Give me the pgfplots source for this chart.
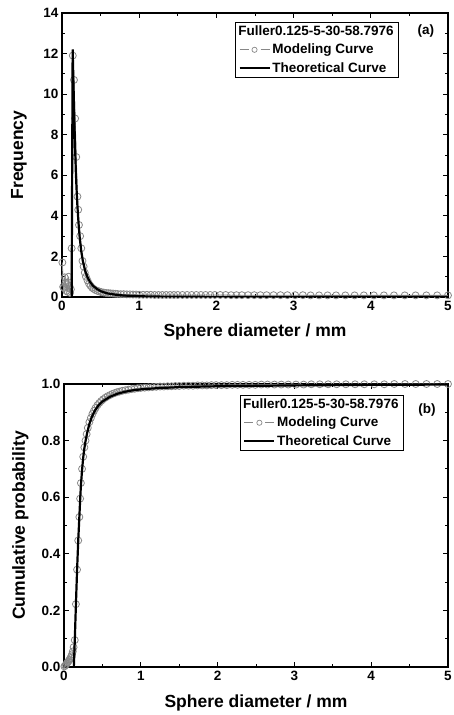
\documentclass[border=0pt]{standalone}
\usepackage{fontspec}
\setmainfont{Liberation Sans}
\usepackage{pgfplots}
\usepackage{pgfplotstable}
\pgfplotsset{compat=1.18}
\definecolor{mgray}{RGB}{135,135,135}

\pgfplotstableread{
x y
0.005 1.70
0.015 0.50
0.025 0.45
0.035 0.97
0.045 0.70
0.055 0.30
0.065 0.62
0.075 0.25
0.085 1.00
0.095 0.55
0.105 0.20
0.115 0.38
0.125 2.40
0.140 11.90
0.155 10.70
0.170 8.80
0.185 6.90
0.200 4.95
0.210 4.30
0.220 3.55
0.235 3.00
0.250 2.40
0.265 1.78
0.280 1.50
0.295 1.20
0.310 1.00
0.330 0.82
0.350 0.66
0.370 0.55
0.390 0.46
0.410 0.40
0.435 0.34
0.460 0.30
0.485 0.27
0.510 0.24
0.540 0.22
0.570 0.20
0.600 0.19
0.630 0.18
0.660 0.17
0.690 0.16
0.720 0.15
0.760 0.14
0.800 0.14
0.840 0.13
0.880 0.13
0.920 0.12
0.960 0.12
1.000 0.11
1.050 0.11
1.100 0.11
1.150 0.11
1.200 0.10
1.250 0.10
1.300 0.10
1.350 0.10
1.400 0.10
1.450 0.10
1.500 0.10
1.560 0.10
1.620 0.10
1.680 0.10
1.740 0.10
1.800 0.10
1.860 0.10
1.920 0.10
1.980 0.10
2.050 0.10
2.120 0.10
2.190 0.09
2.260 0.09
2.330 0.09
2.410 0.09
2.490 0.09
2.570 0.09
2.650 0.09
2.740 0.09
2.830 0.09
2.920 0.09
3.020 0.09
3.120 0.09
3.220 0.08
3.330 0.08
3.440 0.08
3.550 0.08
3.670 0.08
3.790 0.08
3.910 0.08
4.040 0.08
4.170 0.08
4.300 0.08
4.440 0.08
4.580 0.08
4.720 0.08
4.860 0.08
5.000 0.08
}\modfreq

\pgfplotstableread{
x y
0.125 0.000
0.138 12.20
0.150 10.30
0.160 8.70
0.170 7.30
0.180 6.10
0.190 5.20
0.200 4.45
0.215 3.60
0.230 2.90
0.250 2.25
0.270 1.78
0.300 1.30
0.330 0.98
0.360 0.76
0.400 0.56
0.450 0.40
0.500 0.29
0.550 0.22
0.600 0.17
0.700 0.11
0.800 0.075
0.900 0.052
1.000 0.038
1.200 0.022
1.500 0.012
2.000 0.005
3.000 0.0015
4.000 0.0007
5.000 0.0003
}\theofreq

\pgfplotstableread{
x y
0.005 0.002
0.015 0.005
0.025 0.008
0.035 0.012
0.045 0.016
0.055 0.019
0.065 0.023
0.075 0.027
0.085 0.032
0.095 0.038
0.105 0.045
0.115 0.055
0.125 0.070
0.140 0.095
0.155 0.222
0.170 0.344
0.185 0.447
0.200 0.530
0.210 0.595
0.220 0.650
0.235 0.700
0.250 0.743
0.265 0.776
0.280 0.800
0.295 0.823
0.310 0.845
0.330 0.865
0.350 0.880
0.370 0.894
0.390 0.905
0.410 0.915
0.435 0.925
0.460 0.933
0.485 0.940
0.510 0.946
0.540 0.952
0.570 0.957
0.600 0.961
0.630 0.965
0.660 0.968
0.690 0.971
0.720 0.973
0.760 0.976
0.800 0.978
0.840 0.980
0.880 0.982
0.920 0.983
0.960 0.985
1.000 0.986
1.050 0.987
1.100 0.988
1.150 0.989
1.200 0.990
1.250 0.991
1.300 0.991
1.350 0.992
1.400 0.992
1.450 0.993
1.500 0.993
1.560 0.994
1.620 0.994
1.680 0.994
1.740 0.995
1.800 0.995
1.860 0.995
1.920 0.996
1.980 0.996
2.050 0.996
2.120 0.996
2.190 0.997
2.260 0.997
2.330 0.997
2.410 0.997
2.490 0.997
2.570 0.998
2.650 0.998
2.740 0.998
2.830 0.998
2.920 0.998
3.020 0.998
3.120 0.998
3.220 0.999
3.330 0.999
3.440 0.999
3.550 0.999
3.670 0.999
3.790 0.999
3.910 0.999
4.040 0.999
4.170 0.999
4.300 1.000
4.440 1.000
4.580 1.000
4.720 1.000
4.860 1.000
5.000 1.000
}\modcum

\pgfplotstableread{
x y
0.128 0.000
0.140 0.090
0.155 0.220
0.170 0.340
0.185 0.445
0.200 0.530
0.210 0.590
0.220 0.640
0.235 0.695
0.250 0.740
0.265 0.772
0.280 0.798
0.300 0.825
0.330 0.858
0.360 0.882
0.400 0.905
0.450 0.925
0.500 0.938
0.600 0.955
0.700 0.966
0.800 0.973
0.900 0.978
1.000 0.981
1.200 0.985
1.500 0.989
2.000 0.992
3.000 0.995
4.000 0.997
5.000 0.998
}\theocum

\pgfplotsset{
  mystyle/.style={
    scale only axis,
    xmin=0, xmax=5,
    xtick={0,1,2,3,4,5},
    minor x tick num=1,
    minor y tick num=1,
    tick align=inside,
    axis line style={line width=1.8pt},
    major tick length=5pt,
    minor tick length=3pt,
    every tick/.style={black, line width=0.8pt},
    /pgf/number format/assume math mode=true,
    tick label style={font=\bfseries\fontsize{13.5}{15}\selectfont},
    xticklabel style={yshift=-1pt},
    label style={font=\bfseries\fontsize{17.5}{20}\selectfont},
    xlabel style={at={(axis description cs:0.5,0)}, anchor=base, yshift=-40pt},
    clip mode=individual,
    legend cell align=left,
    legend style={draw=black, line width=0.6pt, fill=white,
      font=\bfseries\fontsize{13.5}{15}\selectfont,
      inner xsep=3pt, inner ysep=1.5pt, row sep=3pt},
  },
  modstyle/.style={mgray, line width=0.8pt, mark=o, mark size=3.5pt,
    mark options={line width=0.8pt},
    legend image code/.code={
      \draw[mgray, line width=1pt] (0pt,0pt)--(9pt,0pt);
      \draw[mgray, line width=0.7pt] (15pt,0pt) circle (2.6pt);
      \draw[mgray, line width=1pt] (21pt,0pt)--(30pt,0pt);}},
  theostyle/.style={black, line width=2.2pt,
    legend image code/.code={\draw[black, line width=1.6pt] (0pt,0pt)--(30pt,0pt);}},
}

\begin{document}
\begin{tikzpicture}
\useasboundingbox (0pt,0pt) rectangle (453pt,715pt);

\begin{axis}[mystyle,
  at={(62pt,418pt)}, anchor=south west,
  width=386pt, height=284pt,
  ymin=0, ymax=14, ytick={0,2,...,14},
  xlabel={Sphere diameter / mm},
  ylabel={Frequency},
  ylabel style={at={(axis description cs:-0.101,0.5)}, anchor=base},
  legend style={at={(rel axis cs:0.873,0.968)}, anchor=north east},
]
\addlegendimage{empty legend}
\addlegendentry{\hspace{-34pt}Fuller0.125-5-30-58.7976}
\addplot[modstyle] table[x=x,y=y] {\modfreq};
\addlegendentry{Modeling Curve}
\addplot[theostyle] table[x=x,y=y] {\theofreq};
\addlegendentry{Theoretical Curve}
\node[font=\bfseries\fontsize{13.5}{15}\selectfont] at (rel axis cs:0.943,0.937) {(a)};
\end{axis}

\begin{axis}[mystyle,
  at={(64pt,48pt)}, anchor=south west,
  width=384pt, height=283pt,
  ymin=0, ymax=1, ytick={0,0.2,...,1.0},
  yticklabel style={/pgf/number format/.cd, fixed, fixed zerofill, precision=1},
  xlabel={Sphere diameter / mm},
  ylabel={Cumulative probability},
  ylabel style={at={(axis description cs:-0.102,0.5)}, anchor=base},
  legend style={at={(rel axis cs:0.885,0.961)}, anchor=north east},
]
\addlegendimage{empty legend}
\addlegendentry{\hspace{-34pt}Fuller0.125-5-30-58.7976}
\addplot[modstyle] table[x=x,y=y] {\modcum};
\addlegendentry{Modeling Curve}
\addplot[theostyle] table[x=x,y=y] {\theocum};
\addlegendentry{Theoretical Curve}
\node[font=\bfseries\fontsize{13.5}{15}\selectfont] at (rel axis cs:0.945,0.908) {(b)};
\end{axis}
\end{tikzpicture}
\end{document}
